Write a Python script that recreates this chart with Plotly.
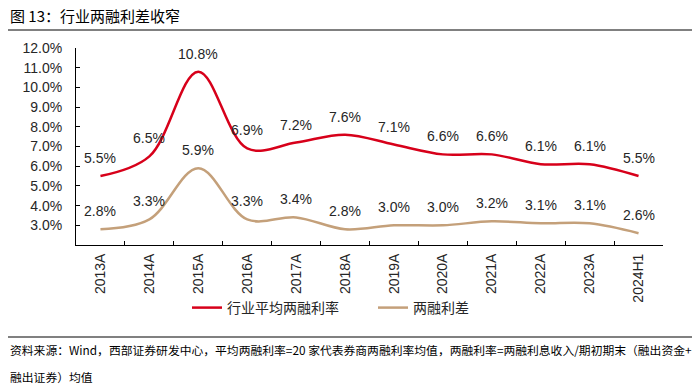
import plotly.graph_objects as go

categories = ["2013A", "2014A", "2015A", "2016A", "2017A", "2018A", "2019A",
              "2020A", "2021A", "2022A", "2023A", "2024H1"]
avg_rate = [5.5, 6.5, 10.8, 6.9, 7.2, 7.6, 7.1, 6.6, 6.6, 6.1, 6.1, 5.5]
spread = [2.8, 3.3, 5.9, 3.3, 3.4, 2.8, 3.0, 3.0, 3.2, 3.1, 3.1, 2.6]
y_ticks = [3, 4, 5, 6, 7, 8, 9, 10, 11, 12]
series_names = ["行业平均两融利率", "两融利差"]

RED = "#D7001A"
TAN = "#C4A07A"
NUM_FONT = "Liberation Sans, Arial, Noto Sans CJK SC"
CJK_FONT = "Noto Sans CJK SC, Liberation Sans"

# pixel geometry helpers (plot area: x 76..663, y 48..245)
L, R, T, B = 76, 663, 48, 245
W, H = 700, 388
def px(x):
    return (x - L) / (R - L)
def py(y):
    return (B - y) / (B - T)

fig = go.Figure()
fig.add_trace(go.Scatter(x=categories, y=avg_rate, name=series_names[0], mode="lines",
                         line=dict(color=RED, width=2.5, shape="spline", smoothing=1.0)))
fig.add_trace(go.Scatter(x=categories, y=spread, name=series_names[1], mode="lines",
                         line=dict(color=TAN, width=2.5, shape="spline", smoothing=1.0)))

annotations = []
for series in (avg_rate, spread):
    for c, v in zip(categories, series):
        annotations.append(dict(x=c, y=v, text=f"{v:.1f}%", showarrow=False,
                                yshift=18, font=dict(family=NUM_FONT, size=14, color="#262626")))

annotations.append(dict(xref="paper", yref="paper", x=px(8), y=py(15), xanchor="left",
                        yanchor="middle", showarrow=False,
                        text="图 13：行业两融利差收窄",
                        font=dict(family=CJK_FONT, size=15, color="#000000")))
annotations.append(dict(xref="paper", yref="paper", x=px(8), y=py(349), xanchor="left",
                        yanchor="middle", showarrow=False,
                        text="资料来源：Wind，西部证券研发中心，平均两融利率=20 家代表券商两融利率均值，两融利率=两融利息收入/期初期末（融出资金+",
                        font=dict(family=CJK_FONT, size=11.8, color="#000000")))
annotations.append(dict(xref="paper", yref="paper", x=px(8), y=py(376), xanchor="left",
                        yanchor="middle", showarrow=False,
                        text="融出证券）均值",
                        font=dict(family=CJK_FONT, size=11.8, color="#000000")))

shapes = [
    dict(type="line", xref="paper", yref="paper", x0=px(8), x1=px(692), y0=py(30), y1=py(30),
         line=dict(color="#808080", width=2)),
    dict(type="line", xref="paper", yref="paper", x0=px(8), x1=px(692), y0=py(337), y1=py(337),
         line=dict(color="#808080", width=2)),
]

fig.update_layout(
    width=W, height=H,
    margin=dict(l=L, r=W - R, t=T, b=H - B, autoexpand=False),
    paper_bgcolor="white", plot_bgcolor="white",
    showlegend=True,
    legend=dict(orientation="h", x=px(187), y=py(308), xanchor="left", yanchor="middle",
                font=dict(family=CJK_FONT, size=14, color="#262626"),
                entrywidth=141, entrywidthmode="pixels", bgcolor="rgba(0,0,0,0)"),
    annotations=annotations,
    shapes=shapes,
)
fig.update_xaxes(type="category", range=[-0.5, 11.5], showline=True, linecolor="#000000",
                 linewidth=1, ticks="inside", ticklen=4, tickcolor="#000000",
                 tickson="boundaries", tickangle=-90, showgrid=False, zeroline=False,
                 ticklabelstandoff=2,
                 tickfont=dict(family=NUM_FONT, size=14, color="#262626"))
fig.update_yaxes(range=[2, 12], tickvals=y_ticks, ticktext=[f"{v:.1f}%" for v in y_ticks],
                 showline=True, linecolor="#000000", linewidth=1, ticks="inside", ticklen=4,
                 tickcolor="#000000", showgrid=False, zeroline=False,
                 ticklabelstandoff=10,
                 tickfont=dict(family=NUM_FONT, size=14, color="#262626"))

fig.write_html("out.html", config={"displayModeBar": False},
               post_script="document.body.style.margin='0';document.body.style.overflow='hidden';")
